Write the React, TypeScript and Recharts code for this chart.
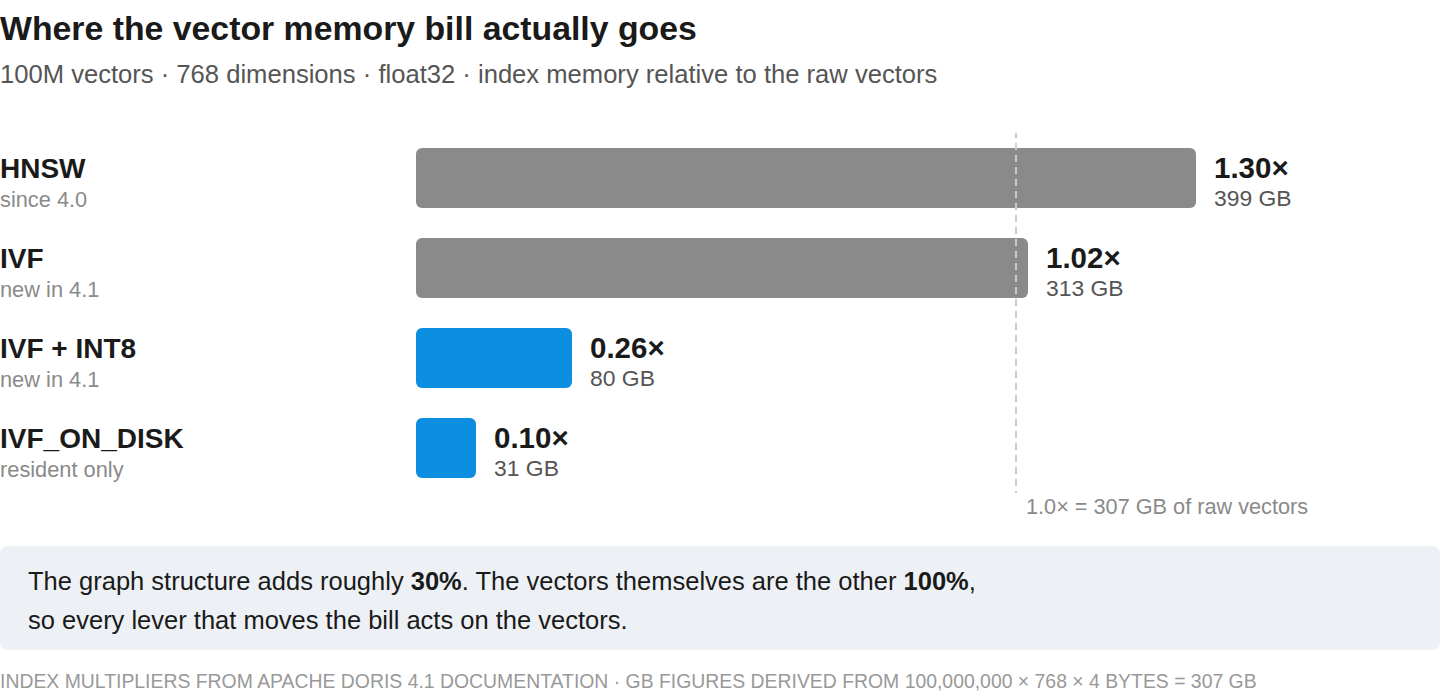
import { Bar, BarChart, Cell, LabelList, ReferenceLine, XAxis, YAxis } from "recharts";

const methods = ["HNSW", "IVF", "IVF + INT8", "IVF_ON_DISK"];
const notes = ["since 4.0", "new in 4.1", "new in 4.1", "resident only"];
const multipliers = [1.3, 1.02, 0.26, 0.1];
const sizesGB = [399, 313, 80, 31];
const compressed = [false, false, true, true];

const rawMultiplier = 1;
const rawGB = 307;

const FONT = "'Liberation Sans', Arial, Helvetica, sans-serif";
const GRAY = "#8a8a8a";
const BLUE = "#0c8fe1";

const data = methods.map((name, i) => ({
  name,
  note: notes[i],
  mult: multipliers[i],
  gb: sizesGB[i],
}));

function MethodTick(props: any) {
  const { y, payload } = props;
  const row = data.find((d) => d.name === payload.value);
  return (
    <g>
      <text x={0} y={y} fontSize={28} fontWeight={700} fill="#1a1a1a" fontFamily={FONT}>
        {payload.value}
      </text>
      <text x={0} y={y + 29} fontSize={21.8} fill={GRAY} fontFamily={FONT}>
        {row ? row.note : ""}
      </text>
    </g>
  );
}

function ValueLabel(props: any) {
  const { x, y, width, height, value } = props;
  const row = data.find((d) => d.name === value);
  if (!row) return null;
  const cx = Number(x) + Number(width) + 18;
  const cy = Number(y) + Number(height) / 2;
  return (
    <g>
      <text x={cx} y={cy} fontSize={29.5} fontWeight={700} fill="#1a1a1a" fontFamily={FONT}>
        {row.mult.toFixed(2) + "×"}
      </text>
      <text x={cx} y={cy + 28} fontSize={22.9} fill="#555" fontFamily={FONT}>
        {row.gb} GB
      </text>
    </g>
  );
}

function RefLabel(props: any) {
  const { viewBox } = props;
  return (
    <text
      x={viewBox.x + 10}
      y={viewBox.y + viewBox.height + 21}
      fontSize={21.7}
      fill="#8a8a8a"
      fontFamily={FONT}
    >
      {`${rawMultiplier.toFixed(1)}× = ${rawGB} GB of raw vectors`}
    </text>
  );
}

export default function App() {
  return (
    <div
      style={{
        position: "relative",
        width: 1440,
        height: 696,
        fontFamily: FONT,
        background: "#fff",
        overflow: "hidden",
      }}
    >
      <style>{`body{margin:0}`}</style>
      <div
        style={{
          position: "absolute",
          left: 0,
          top: 11.6,
          fontSize: 33.8,
          lineHeight: "33.8px",
          fontWeight: 700,
          color: "#1a1a1a",
          whiteSpace: "nowrap",
        }}
      >
        Where the vector memory bill actually goes
      </div>
      <div
        style={{
          position: "absolute",
          left: 0,
          top: 62.3,
          fontSize: 25.6,
          lineHeight: "25.6px",
          color: "#555",
          whiteSpace: "nowrap",
        }}
      >
        100M vectors · 768 dimensions · float32 · index memory relative to the raw vectors
      </div>

      <div style={{ position: "absolute", left: 0, top: 100 }}>
        <BarChart
          width={1440}
          height={430}
          data={data}
          layout="vertical"
          margin={{ top: 33, right: 4, bottom: 37, left: 0 }}
        >
          <XAxis type="number" domain={[0, 1.7]} hide />
          <YAxis
            type="category"
            dataKey="name"
            width={416}
            axisLine={false}
            tickLine={false}
            tick={<MethodTick />}
          />
          <ReferenceLine
            x={rawMultiplier}
            stroke="#c9ccd3"
            strokeWidth={2}
            strokeDasharray="7 5"
            strokeDashoffset={5}
            label={<RefLabel />}
          />
          <Bar dataKey="mult" barSize={60} radius={6} isAnimationActive={false}>
            {data.map((d, i) => (
              <Cell key={d.name} fill={compressed[i] ? BLUE : GRAY} />
            ))}
            <LabelList dataKey="name" content={<ValueLabel />} />
          </Bar>
        </BarChart>
      </div>

      <div
        style={{
          position: "absolute",
          left: 0,
          top: 546,
          width: 1440,
          height: 104,
          boxSizing: "border-box",
          padding: "16px 28px 0 28px",
          background: "#edf1f5",
          borderRadius: 8,
          fontSize: 25.5,
          lineHeight: "38.5px",
          color: "#1a1a1a",
          whiteSpace: "nowrap",
        }}
      >
        The graph structure adds roughly <b>30%</b>. The vectors themselves are the other <b>100%</b>,
        <br />
        so every lever that moves the bill acts on the vectors.
      </div>

      <div
        style={{
          position: "absolute",
          left: 0,
          top: 671.5,
          fontSize: 19.4,
          lineHeight: "19.4px",
          color: "#999",
          whiteSpace: "nowrap",
          textTransform: "uppercase",
        }}
      >
        Index multipliers from Apache Doris 4.1 documentation · GB figures derived from 100,000,000 × 768 × 4 bytes = 307 GB
      </div>
    </div>
  );
}
